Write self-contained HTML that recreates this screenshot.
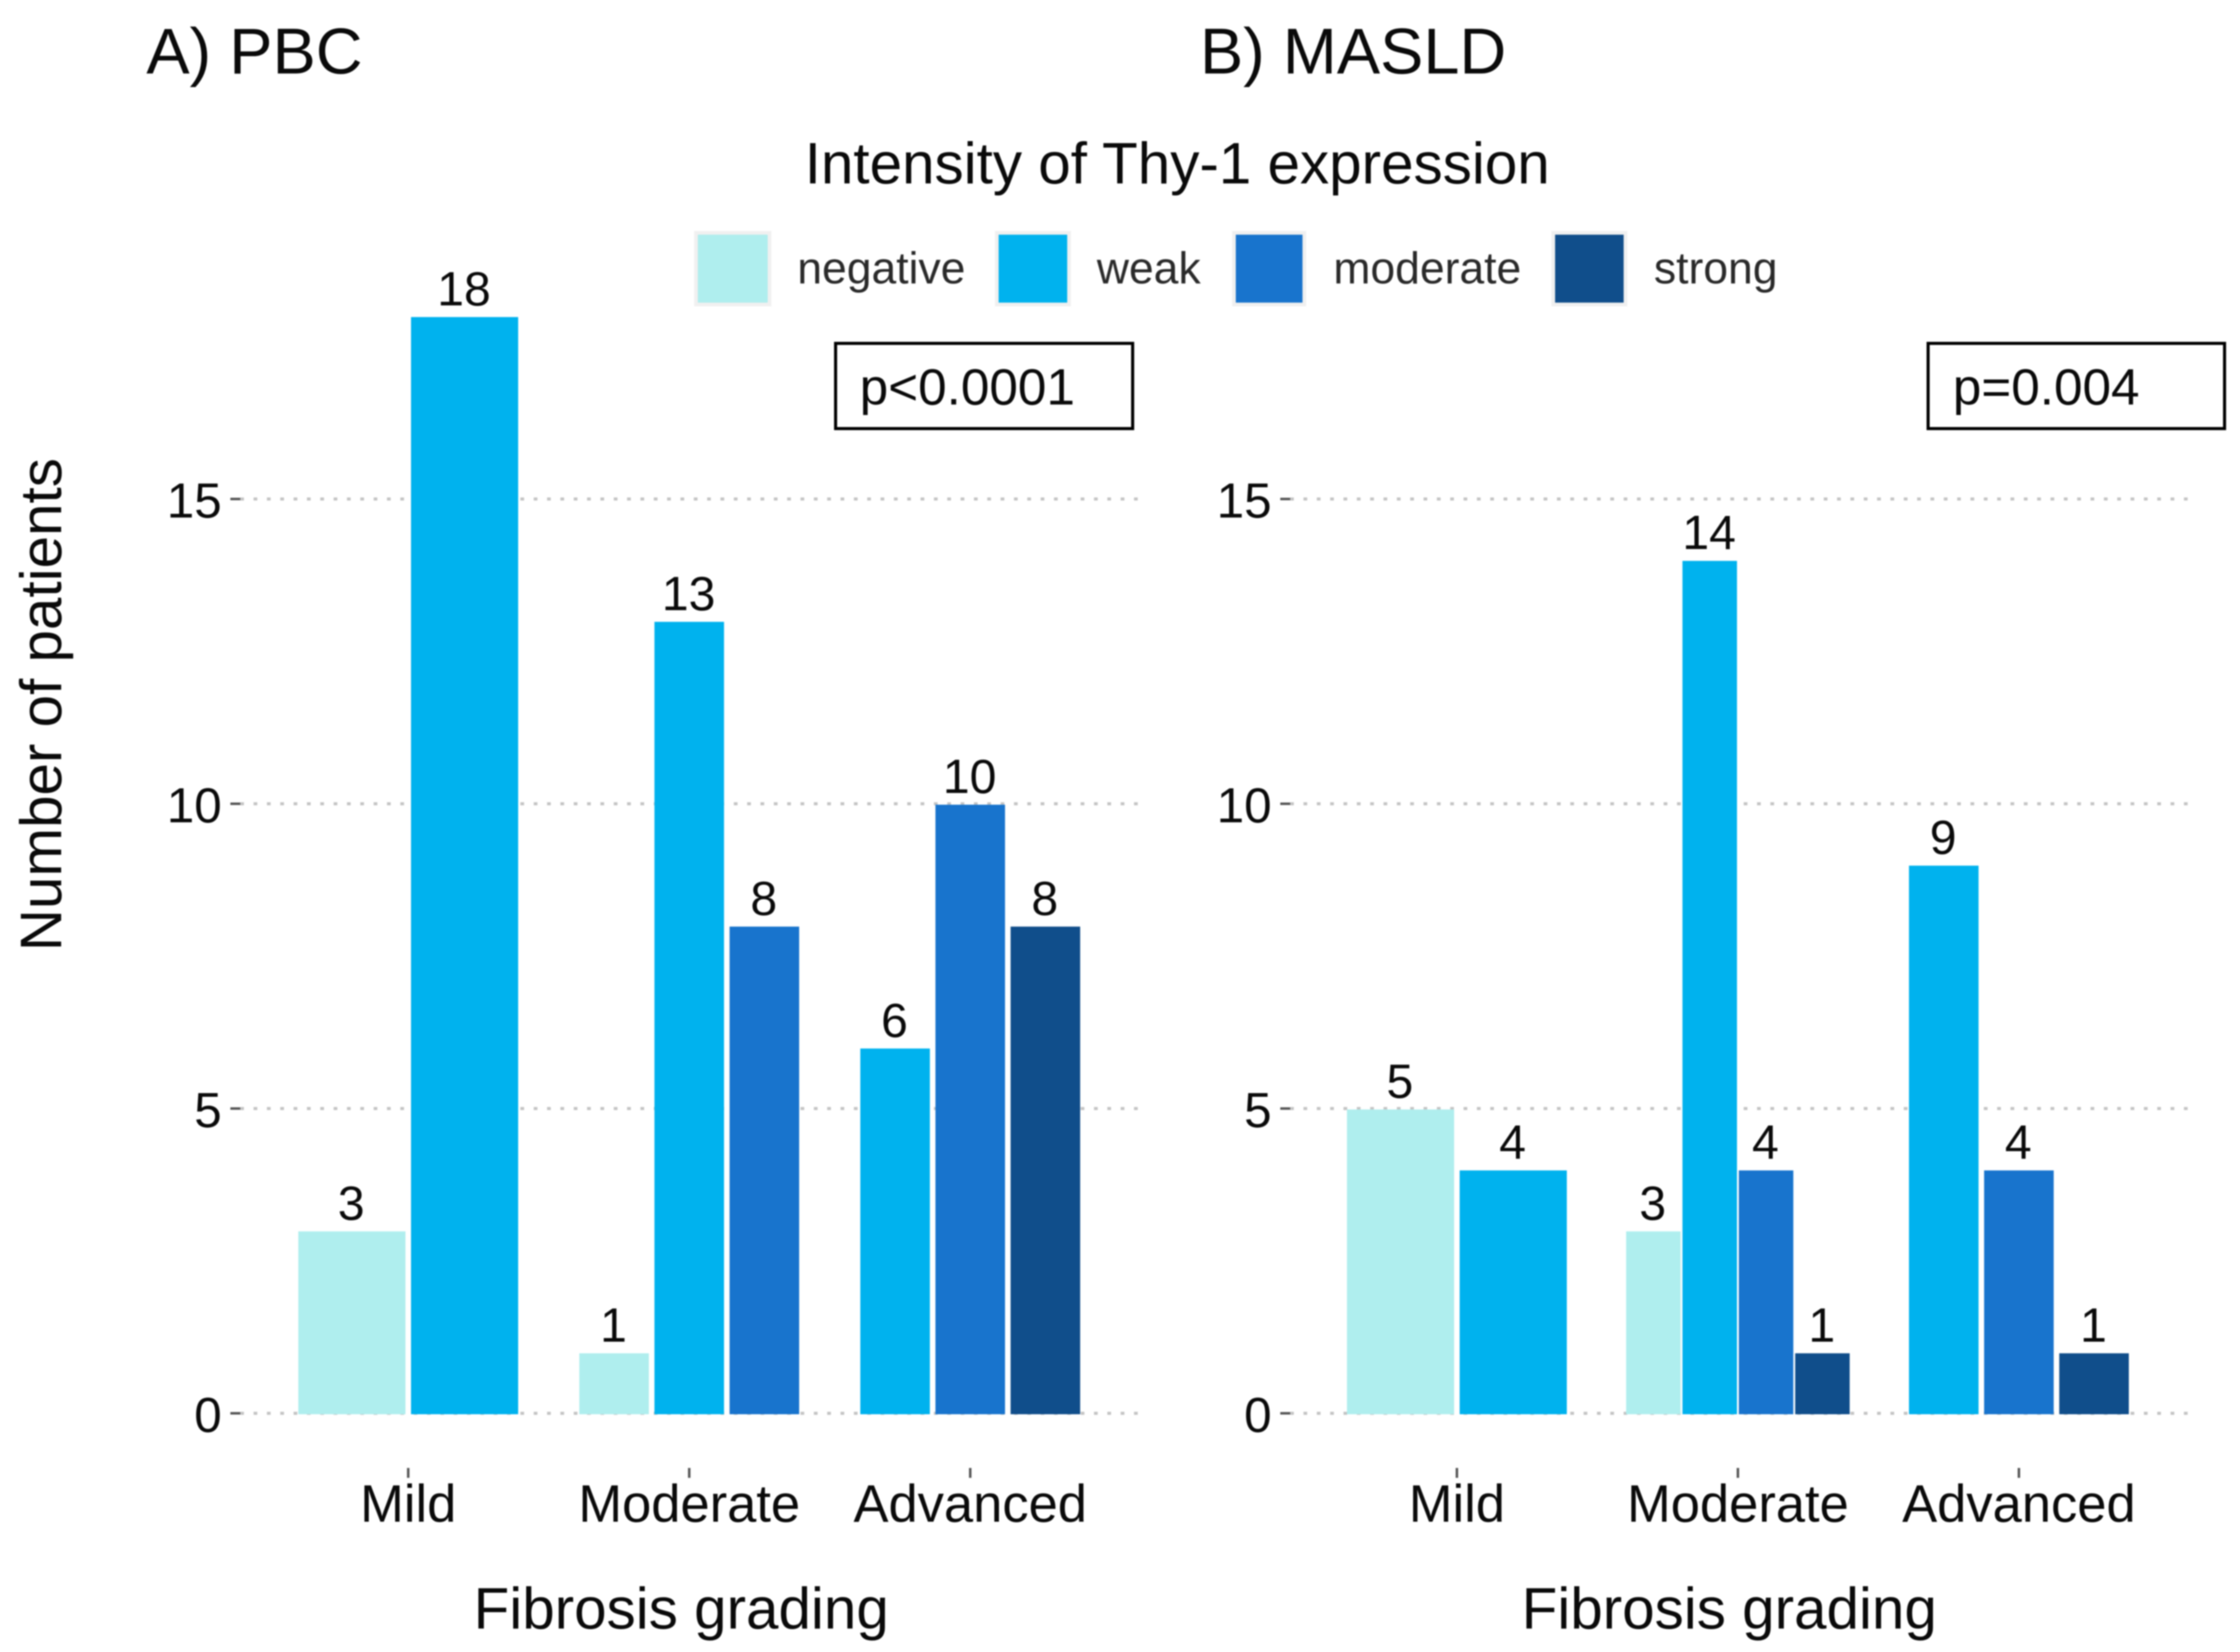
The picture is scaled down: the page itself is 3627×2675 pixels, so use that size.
<!DOCTYPE html>
<html lang="en">
<head>
<meta charset="utf-8">
<title>Intensity of Thy-1 expression by fibrosis grading</title>
<style>
html,body{margin:0;padding:0;background:#fff;width:3627px;height:2675px;overflow:hidden}
svg{display:block;filter:blur(1px)}
text{font-family:"Liberation Sans",sans-serif;fill:#0a0a0a}
</style>
</head>
<body>
<svg id="chart" xmlns="http://www.w3.org/2000/svg" width="3627" height="2675" viewBox="0 0 3627 2675">
<rect x="0" y="0" width="3627" height="2675" fill="#fff"/>
<text x="237" y="119" font-size="105">A) PBC</text>
<text x="1943" y="119" font-size="105">B) MASLD</text>
<text x="1303" y="297" font-size="94.5">Intensity of Thy-1 expression</text>
<g>
<rect x="1127" y="377" width="119" height="116" fill="#AFEEEE" stroke="#f0f0f0" stroke-width="6"/>
<text x="1291" y="459" font-size="72" style="fill:#2a2a2a">negative</text>
<rect x="1614" y="377" width="117" height="116" fill="#00B2EE" stroke="#f0f0f0" stroke-width="6"/>
<text x="1776" y="459" font-size="72" style="fill:#2a2a2a">weak</text>
<rect x="1998" y="377" width="114" height="116" fill="#1874CD" stroke="#f0f0f0" stroke-width="6"/>
<text x="2159" y="459" font-size="72" style="fill:#2a2a2a">moderate</text>
<rect x="2515" y="377" width="117" height="116" fill="#104E8B" stroke="#f0f0f0" stroke-width="6"/>
<text x="2678" y="459" font-size="72" style="fill:#2a2a2a">strong</text>
</g>
<g id="panel-a"></g>
<g id="panel-b"></g>
<rect x="1353" y="556" width="481" height="138" fill="#fff" stroke="#000" stroke-width="5"/>
<text x="1392" y="655" font-size="83">p&lt;0.0001</text>
<rect x="3122" y="556" width="480" height="138" fill="#fff" stroke="#000" stroke-width="5"/>
<text x="3162" y="655" font-size="83">p=0.004</text>
<text transform="translate(99,1141) rotate(-90)" text-anchor="middle" font-size="94.5">Number of patients</text>
<text x="1103" y="2637" text-anchor="middle" font-size="94.5">Fibrosis grading</text>
<text x="2800" y="2637" text-anchor="middle" font-size="94.5">Fibrosis grading</text>
</svg>
<script>
const categories = ['Mild', 'Moderate', 'Advanced'];
const seriesNames = ['negative', 'weak', 'moderate', 'strong'];
const yTickValues = [0, 5, 10, 15];
const pbcNegative = [3, 1, 0];
const pbcWeak = [18, 13, 6];
const pbcModerate = [0, 8, 10];
const pbcStrong = [0, 0, 8];
const maslNegative = [5, 3, 0];
const maslWeak = [4, 14, 9];
const maslModerate = [0, 4, 4];
const maslStrong = [0, 1, 1];

const palette = {negative: '#AFEEEE', weak: '#00B2EE', moderate: '#1874CD', strong: '#104E8B'};
const NS = 'http://www.w3.org/2000/svg';
const Y0 = 2290;
const UNIT = 98.7;
const GROUP_W = 365;

function yScale(v) {
  return Y0 - v * UNIT;
}
function make(parent, tag, attrs, txt) {
  const el = document.createElementNS(NS, tag);
  for (const k in attrs) el.setAttribute(k, attrs[k]);
  if (txt !== undefined) el.textContent = txt;
  parent.appendChild(el);
  return el;
}
function drawPanel(root, cfg, rows) {
  const xScale = function (i) { return cfg.firstCenter + i * cfg.step; };
  yTickValues.forEach(function (t) {
    const y = yScale(t) - 1.5;
    const grid = make(root, 'line', {x1: cfg.plotLeft, x2: cfg.plotRight, y1: y, y2: y, stroke: '#c4c4c4', 'stroke-width': 5, 'stroke-dasharray': '6 15.6'});
    
    
    const tick = make(root, 'line', {x1: cfg.plotLeft - 16, x2: cfg.plotLeft, y1: y, y2: y, stroke: '#555', 'stroke-width': 4});
    
    
    const lab = make(root, 'text', {x: cfg.plotLeft - 30, y: y + 30, 'text-anchor': 'end', 'font-size': 80}, String(t));
    
    
  });
  categories.forEach(function (cat, c) {
    const cx = xScale(c);
    const tick = make(root, 'line', {x1: cx, x2: cx, y1: 2377, y2: 2393, stroke: '#555', 'stroke-width': 4});
    
    
    const lab = make(root, 'text', {x: cx, y: 2464, 'text-anchor': 'middle', 'font-size': 85}, cat);
    
    
    const present = seriesNames.filter(function (s, si) { return rows[si][c] > 0; });
    const slot = GROUP_W / present.length;
    const gap = present.length === 4 ? 3 : 9;
    present.forEach(function (name, k) {
      const v = rows[seriesNames.indexOf(name)][c];
      const left = cx - GROUP_W / 2 + k * slot;
      const bar = make(root, 'rect', {x: left + gap / 2, y: yScale(v), width: slot - gap, height: Y0 - yScale(v), fill: palette[name]});
      
      
      const val = make(root, 'text', {x: left + slot / 2 - 1, y: yScale(v) - 19, 'text-anchor': 'middle', 'font-size': 78}, String(v));
      
      
    });
  });
}
drawPanel(document.getElementById('panel-a'),
  {firstCenter: 661, step: 455, plotLeft: 389, plotRight: 1845},
  [pbcNegative, pbcWeak, pbcModerate, pbcStrong]);
drawPanel(document.getElementById('panel-b'),
  {firstCenter: 2359, step: 455, plotLeft: 2089, plotRight: 3543},
  [maslNegative, maslWeak, maslModerate, maslStrong]);
</script>
</body>
</html>
